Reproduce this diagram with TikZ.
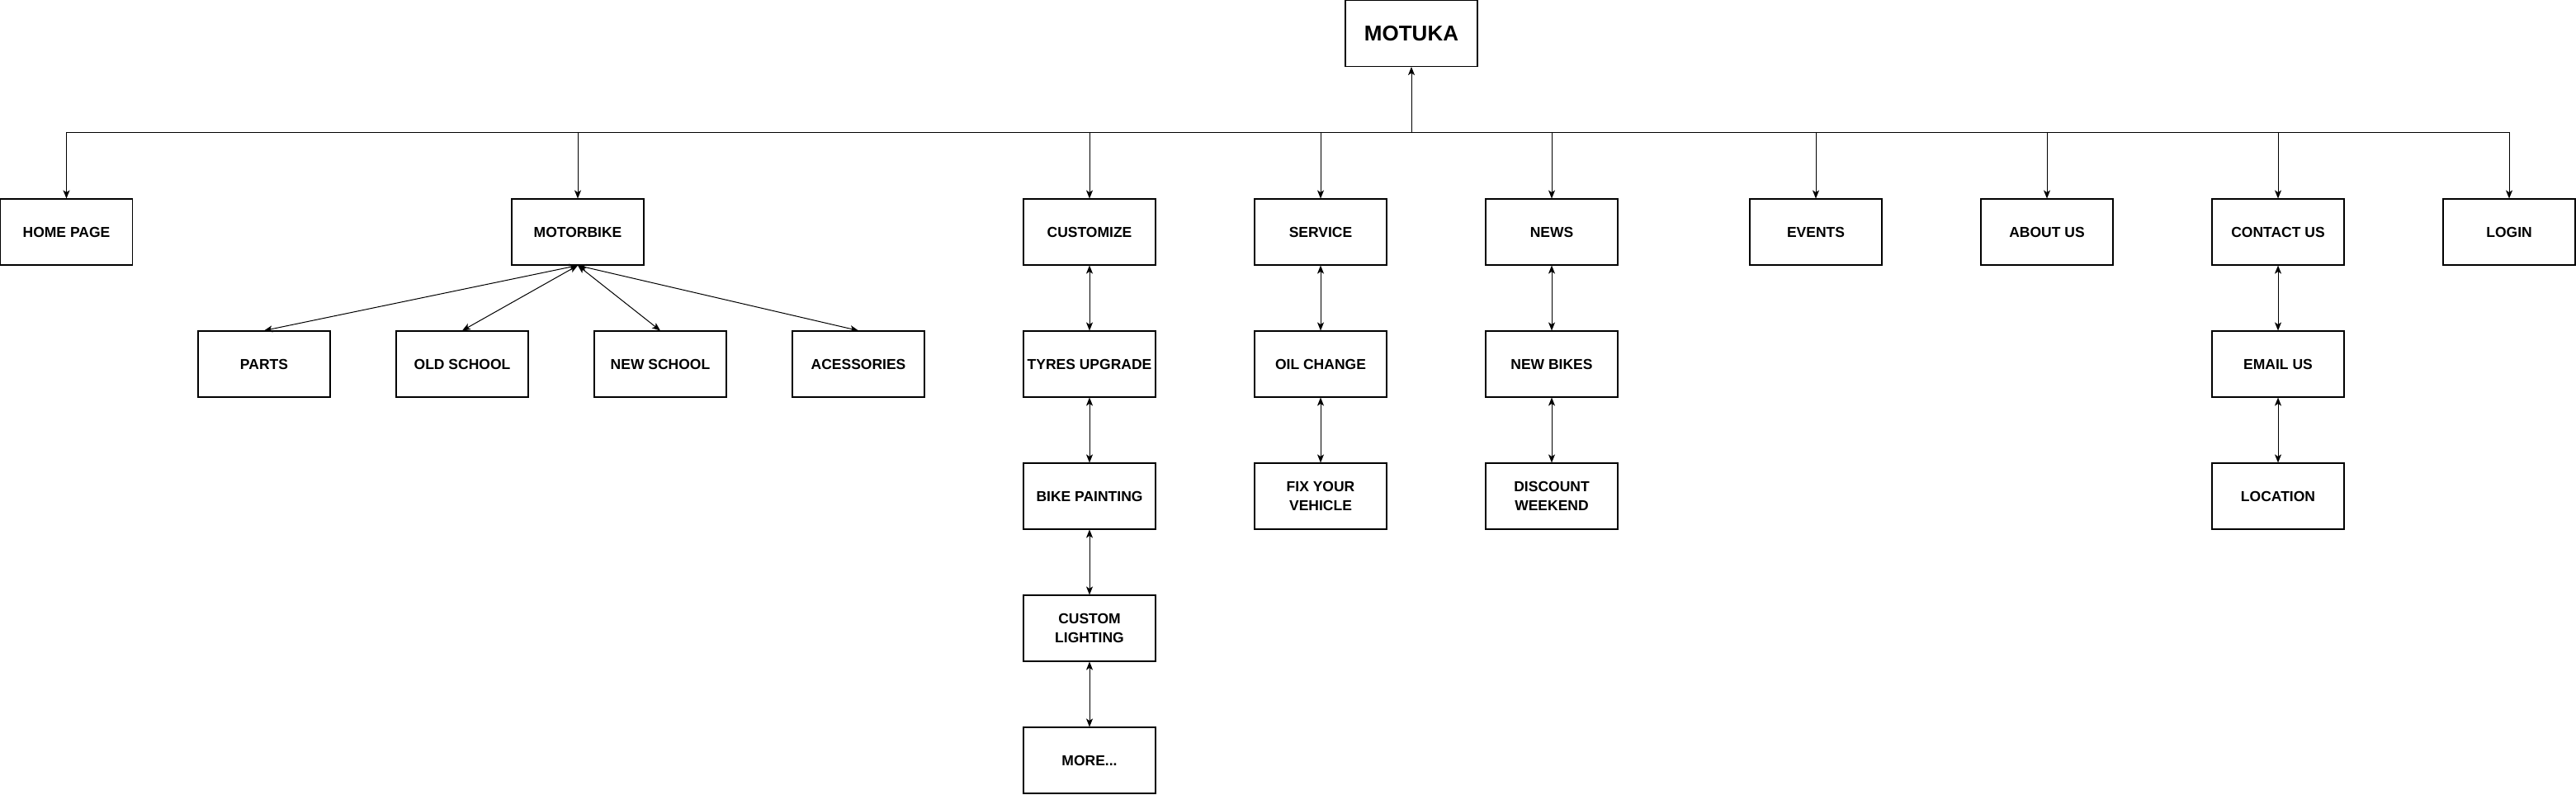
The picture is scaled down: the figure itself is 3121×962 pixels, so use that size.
\documentclass[tikz,border=0pt]{standalone}
\usepackage{fontspec}
\setmainfont{Liberation Sans}
\usetikzlibrary{arrows.meta}
\begin{document}
\begin{tikzpicture}[x=1pt,y=-1pt,
  box/.style={draw, line width=1.1pt, minimum width=160pt, minimum height=80pt, inner sep=0pt, align=center,
    font=\fontsize{17.5}{23}\selectfont\bfseries},
  conn/.style={line width=1pt},
  arr/.style={conn, -{Stealth[length=10pt,width=8pt,inset=2.5pt]}},
  darr/.style={conn, {Stealth[length=10pt,width=8pt,inset=2.5pt]}-{Stealth[length=10pt,width=8pt,inset=2.5pt]}}]
\useasboundingbox (0,0) rectangle (3121,962);
\node[box, font=\fontsize{26}{30}\selectfont\bfseries] (motuka) at (1710,40.5) {MOTUKA};
% row 1
\node[box] (home) at (80.5,281) {HOME PAGE};
\node[box] (motorbike) at (700,281) {MOTORBIKE};
\node[box] (customize) at (1320,281) {CUSTOMIZE};
\node[box] (service) at (1600,281) {SERVICE};
\node[box] (news) at (1880,281) {NEWS};
\node[box] (events) at (2200,281) {EVENTS};
\node[box] (about) at (2480,281) {ABOUT US};
\node[box] (contact) at (2760,281) {CONTACT US};
\node[box] (login) at (3040,281) {LOGIN};
% motorbike children
\node[box] (parts) at (320,441) {PARTS};
\node[box] (old) at (560,441) {OLD SCHOOL};
\node[box] (new) at (800,441) {NEW SCHOOL};
\node[box] (acc) at (1040,441) {ACESSORIES};
% customize chain
\node[box] (tyres) at (1320,441) {TYRES UPGRADE};
\node[box] (paint) at (1320,601) {BIKE PAINTING};
\node[box] (light) at (1320,761) {CUSTOM\\LIGHTING};
\node[box] (more) at (1320,921) {MORE...};
% service chain
\node[box] (oil) at (1600,441) {OIL CHANGE};
\node[box] (fix) at (1600,601) {FIX YOUR\\VEHICLE};
% news chain
\node[box] (newbikes) at (1880,441) {NEW BIKES};
\node[box] (discount) at (1880,601) {DISCOUNT\\WEEKEND};
% contact chain
\node[box] (email) at (2760,441) {EMAIL US};
\node[box] (location) at (2760,601) {LOCATION};
% bus
\coordinate (bus) at (1710,160);
\draw[arr] (bus) -- (motuka.south);
\draw[conn] (home.north |- bus) -- (login.north |- bus);
\foreach \n in {home,motorbike,customize,service,news,events,about,contact,login}
  \draw[arr] (\n.north |- bus) -- (\n.north);
% motorbike fan
\foreach \n in {parts,old,new,acc}
  \draw[darr] (motorbike.south) -- (\n.north);
% chains
\draw[darr] (customize) -- (tyres);
\draw[darr] (tyres) -- (paint);
\draw[darr] (paint) -- (light);
\draw[darr] (light) -- (more);
\draw[darr] (service) -- (oil);
\draw[darr] (oil) -- (fix);
\draw[darr] (news) -- (newbikes);
\draw[darr] (newbikes) -- (discount);
\draw[darr] (contact) -- (email);
\draw[darr] (email) -- (location);
\end{tikzpicture}
\end{document}
